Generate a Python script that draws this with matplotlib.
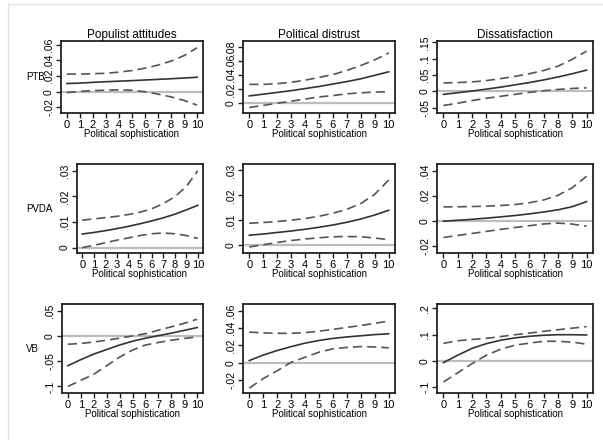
import matplotlib
matplotlib.use("Agg")
import matplotlib.pyplot as plt
from matplotlib.lines import Line2D

x = list(range(11))
col_titles = ["Populist attitudes", "Political distrust", "Dissatisfaction"]
row_labels = ["PTB", "PVDA", "VB"]
xlab = "Political sophistication"

# PTB
ptb_pop_est = [.0105, .011, .012, .0128, .0135, .0142, .015, .0158, .0166, .0175, .0185]
ptb_pop_hi = [.0225, .0225, .023, .0235, .025, .027, .030, .034, .039, .046, .056]
ptb_pop_lo = [-.001, .0005, .0015, .002, .0025, .002, .0, -.003, -.0065, -.011, -.017]

ptb_dis_est = [.0105, .013, .0155, .018, .021, .024, .0275, .031, .035, .040, .045]
ptb_dis_hi = [.027, .027, .028, .030, .033, .037, .041, .047, .054, .062, .072]
ptb_dis_lo = [-.006, -.003, .0, .003, .006, .009, .011, .0135, .015, .016, .0165]

ptb_sat_est = [-.009, -.004, .001, .007, .013, .020, .027, .035, .044, .054, .065]
ptb_sat_hi = [.026, .027, .029, .033, .039, .046, .054, .064, .077, .098, .123]
ptb_sat_lo = [-.043, -.036, -.028, -.021, -.015, -.009, -.003, .002, .006, .009, .011]

# PVDA
pvda_pop_est = [.0053, .0059, .0066, .0074, .0083, .0093, .0104, .0116, .013, .0147, .0165]
pvda_pop_hi = [.0107, .0112, .0117, .0122, .0129, .0138, .0151, .0171, .0198, .0238, .030]
pvda_pop_lo = [.0, .0009, .0019, .0029, .0038, .0047, .0054, .0057, .0054, .0047, .0036]

pvda_dis_est = [.0041, .0046, .0052, .0058, .0065, .0073, .0082, .0093, .0106, .0122, .0141]
pvda_dis_hi = [.0089, .0092, .0096, .0101, .0108, .0117, .0129, .0145, .0168, .0205, .0262]
pvda_dis_lo = [-.0006, .0003, .0012, .002, .0026, .0031, .0035, .0036, .0035, .003, .0023]

pvda_sat_est = [.0, .0007, .0015, .0024, .0034, .0045, .0058, .0073, .009, .0115, .0155]
pvda_sat_hi = [.0113, .0114, .0116, .0119, .0124, .0132, .0146, .0168, .0205, .0265, .0356]
pvda_sat_lo = [-.0129, -.0113, -.0097, -.0081, -.0065, -.005, -.0036, -.0022, -.0015, -.0023, -.004]

# VB
vb_pop_est = [-.059, -.047, -.036, -.027, -.018, -.0105, -.0045, .0005, .0055, .011, .0166]
vb_pop_hi = [-.0164, -.015, -.012, -.0085, -.0045, .0, .0045, .0113, .018, .025, .033]
vb_pop_lo = [-.1, -.088, -.076, -.059, -.042, -.028, -.018, -.013, -.0085, -.005, -.002]

vb_dis_est = [.0027, .009, .0142, .0187, .0227, .0258, .0282, .0298, .0312, .0325, .0335]
vb_dis_hi = [.0354, .0345, .034, .034, .0348, .0365, .0385, .0408, .043, .0455, .0481]
vb_dis_lo = [-.029, -.018, -.009, .0007, .0065, .0123, .0162, .0178, .0188, .0183, .0173]

vb_sat_est = [-.006, .022, .048, .066, .079, .088, .094, .098, .1, .1, .099]
vb_sat_hi = [.067, .077, .082, .086, .093, .10, .106, .113, .119, .125, .131]
vb_sat_lo = [-.08, -.045, -.01, .022, .045, .06, .068, .075, .075, .072, .064]

yticks = [
    [[-.02, 0, .02, .04, .06], [0, .02, .04, .06, .08], [-.05, 0, .05, .1, .15]],
    [[0, .01, .02, .03], [0, .01, .02, .03], [-.02, 0, .02, .04]],
    [[-.1, -.05, 0, .05], [-.02, 0, .02, .04, .06], [-.1, 0, .1, .2]],
]
ylims = [
    [(-.027, .0646), (-.0139, .089), (-.066, .154)],
    [(-.0021, .0326), (-.003, .0326), (-.0252, .0453)],
    [(-.113, .0632), (-.0346, .0677), (-.122, .217)],
]
series = [
    [(ptb_pop_est, ptb_pop_lo, ptb_pop_hi), (ptb_dis_est, ptb_dis_lo, ptb_dis_hi), (ptb_sat_est, ptb_sat_lo, ptb_sat_hi)],
    [(pvda_pop_est, pvda_pop_lo, pvda_pop_hi), (pvda_dis_est, pvda_dis_lo, pvda_dis_hi), (pvda_sat_est, pvda_sat_lo, pvda_sat_hi)],
    [(vb_pop_est, vb_pop_lo, vb_pop_hi), (vb_dis_est, vb_dis_lo, vb_dis_hi), (vb_sat_est, vb_sat_lo, vb_sat_hi)],
]

# pixel boxes: (left, right, top, bottom)
boxes = [
    [(61, 203, 41, 113), (243, 395, 41, 113), (437, 593, 41, 113)],
    [(77, 203, 164, 253), (243, 395, 164, 253), (437, 593, 164, 253)],
    [(62, 203, 304, 393), (243, 395, 304, 393), (437, 593, 304, 393)],
]

W, H = 603, 440
plt.rcParams["font.family"] = ["Liberation Sans", "DejaVu Sans"]


def stata_fmt(v):
    if abs(v) < 1e-12:
        return "0"
    return ("%g" % v).replace("0.", ".")


fig = plt.figure(figsize=(W / 100, H / 100), dpi=100)
fig.patch.set_facecolor("white")

# light frame of the graph region
fig.add_artist(Line2D([8 / W, 8 / W], [0, 1 - 4 / H], color="#e4e4e4", lw=1))
fig.add_artist(Line2D([8 / W, 1], [1 - 4 / H, 1 - 4 / H], color="#e4e4e4", lw=1))

for r in range(3):
    for c in range(3):
        l, rt, t, b = boxes[r][c]
        ax = fig.add_axes([l / W, 1 - b / H, (rt - l) / W, (b - t) / H])
        est, lo, hi = series[r][c]
        ax.axhline(0, color="#bdbdbd", lw=1.6, zorder=1)
        ax.plot(x, hi, color="#555555", lw=1.2, dashes=(5.5, 3), zorder=2)
        ax.plot(x, lo, color="#555555", lw=1.2, dashes=(5.5, 3), zorder=2)
        ax.plot(x, est, color="#333333", lw=1.2, zorder=3)
        ax.set_xlim(-0.45, 10.45)
        ax.set_ylim(*ylims[r][c])
        ax.set_xticks(x)
        ax.set_xticklabels([str(v) for v in x], fontsize=8)
        ax.set_yticks(yticks[r][c])
        ax.set_yticklabels([stata_fmt(v) for v in yticks[r][c]],
                           fontsize=7.5, rotation=90, va="center")
        ax.tick_params(axis="both", direction="out", length=3.5, width=1,
                       color="#222222", pad=1.5)
        for s in ax.spines.values():
            s.set_linewidth(1.3)
            s.set_color("#222222")
        ax.set_xlabel(xlab, fontsize=7, labelpad=-0.5)
        if r == 0:
            ax.set_title(col_titles[c], fontsize=8.5, pad=2)
        if c == 0:
            fig.text(26 / W, 1 - ((t + b) / 2) / H, row_labels[r],
                     fontsize=7, ha="left", va="center")

fig.savefig("out.png", dpi=100)
